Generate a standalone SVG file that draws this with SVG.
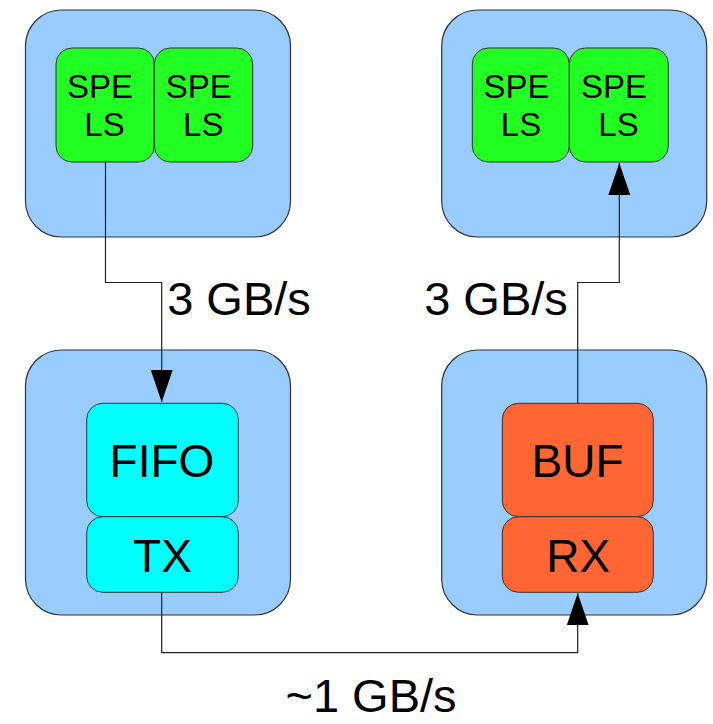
<svg xmlns="http://www.w3.org/2000/svg" width="713" height="724" viewBox="0 0 713 724">
  <defs>
    <style>
      .outer { fill: #99ccff; stroke: #333333; stroke-width: 1.2; }
      .spe { fill: #22ff22; stroke: #333333; stroke-width: 1; }
      .tx { fill: #00ffff; stroke: #333333; stroke-width: 1; }
      .rx { fill: #ff6633; stroke: #333333; stroke-width: 1; }
      text { font-family: "Liberation Sans", Arial, sans-serif; fill: #000000; text-anchor: middle; }
      .small { font-size: 33px; }
      .big { font-size: 46px; }
      .label { font-size: 47px; }
      .link { fill: none; stroke: #222222; stroke-width: 1.2; }
    </style>
    <marker id="arrow" viewBox="0 0 32 22" refX="32" refY="11" markerWidth="32" markerHeight="22" markerUnits="userSpaceOnUse" orient="auto">
      <path d="M0,0 L32,11 L0,22 Z" fill="#000000"/>
    </marker>
  </defs>

  <!-- sending cell (top left) -->
  <g id="cell-send">
    <rect class="outer" x="25.5" y="10" width="265" height="227" rx="36"/>
  </g>
  <g id="spe-send-1">
    <rect class="spe" x="56" y="48" width="98.3" height="114" rx="16"/>
    <text class="small" x="100" y="98">SPE</text>
    <text class="small" x="104.5" y="136">LS</text>
  </g>
  <g id="spe-send-2">
    <rect class="spe" x="154.3" y="48" width="98.4" height="114" rx="16"/>
    <text class="small" x="198.7" y="98">SPE</text>
    <text class="small" x="203.3" y="136">LS</text>
  </g>

  <!-- receiving cell (top right) -->
  <g id="cell-recv">
    <rect class="outer" x="441.7" y="10" width="265" height="227" rx="36"/>
  </g>
  <g id="spe-recv-1">
    <rect class="spe" x="472.3" y="48" width="97" height="114" rx="16"/>
    <text class="small" x="516.5" y="98">SPE</text>
    <text class="small" x="521" y="136">LS</text>
  </g>
  <g id="spe-recv-2">
    <rect class="spe" x="569.3" y="48" width="99" height="114" rx="16"/>
    <text class="small" x="614" y="98">SPE</text>
    <text class="small" x="618.5" y="136">LS</text>
  </g>

  <!-- transmit board (bottom left) -->
  <g id="board-tx">
    <rect class="outer" x="25.5" y="350" width="265" height="265" rx="36"/>
  </g>
  <g id="fifo">
    <rect class="tx" x="86.7" y="403.3" width="151.6" height="113.4" rx="16"/>
    <text class="big" x="162" y="476.7">FIFO</text>
  </g>
  <g id="tx">
    <rect class="tx" x="86.7" y="516.7" width="151.6" height="75.6" rx="16"/>
    <text class="big" x="162.5" y="571.7">TX</text>
  </g>

  <!-- receive board (bottom right) -->
  <g id="board-rx">
    <rect class="outer" x="441.7" y="350" width="265" height="265" rx="36"/>
  </g>
  <g id="buf">
    <rect class="rx" x="502.3" y="403.3" width="151" height="113.4" rx="16"/>
    <text class="big" x="577.5" y="476.7">BUF</text>
  </g>
  <g id="rx">
    <rect class="rx" x="502.3" y="516.7" width="151" height="75.6" rx="16"/>
    <text class="big" x="578.3" y="571.7">RX</text>
  </g>

  <!-- data paths -->
  <g id="connectors">
    <polyline class="link" points="105.5,162 105.5,282.5 161.7,282.5 161.7,402" marker-end="url(#arrow)"/>
    <polyline class="link" points="577.7,403.3 577.7,282.5 619.3,282.5 619.3,163" marker-end="url(#arrow)"/>
    <polyline class="link" points="161.7,592.3 161.7,652.7 577.7,652.7 577.7,593.3" marker-end="url(#arrow)"/>
  </g>

  <!-- bandwidth labels -->
  <g id="labels">
    <text class="label" x="239" y="315">3 GB/s</text>
    <text class="label" x="496" y="315">3 GB/s</text>
    <text class="label" x="371" y="712">~1 GB/s</text>
  </g>
</svg>
